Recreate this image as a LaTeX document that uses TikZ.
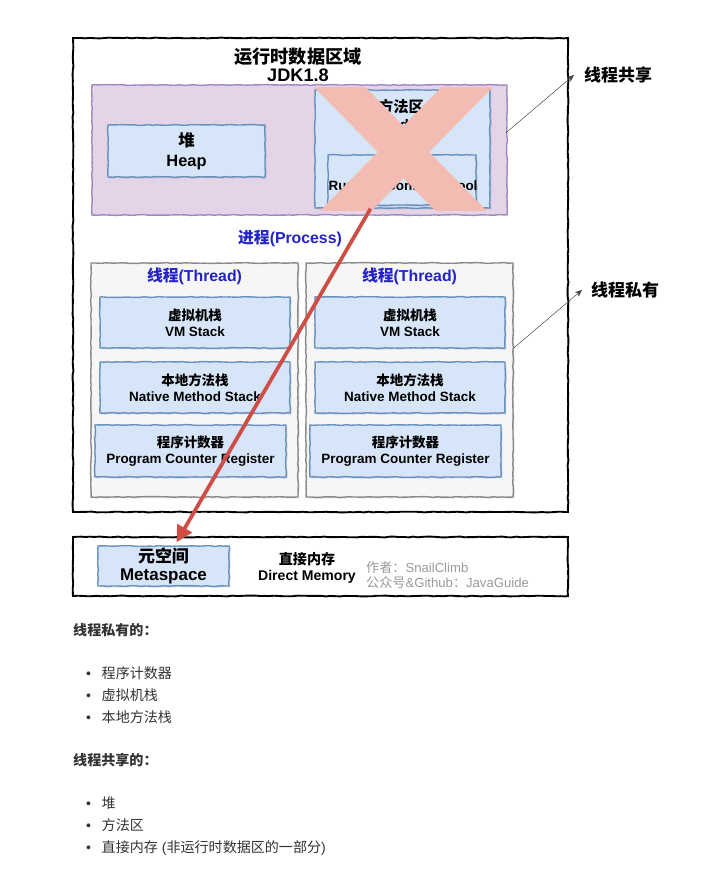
\documentclass[tikz,border=0pt]{standalone}
\usepackage{fontspec}
\setmainfont{Liberation Sans}
\newfontfamily\cjk{Noto Sans CJK SC}
\usepackage{xcolor}
\usetikzlibrary{arrows.meta,calc,decorations.pathmorphing,shadows}

\definecolor{purplefill}{HTML}{E4D4E8}
\definecolor{purpleline}{HTML}{A088BC}
\definecolor{bluefill}{HTML}{D6E6F8}
\definecolor{blueline}{HTML}{6A90BE}
\definecolor{threadfill}{HTML}{F6F6F6}
\definecolor{threadline}{HTML}{8A8A8A}
\definecolor{crosspink}{HTML}{F3BCB2}
\definecolor{arrowred}{HTML}{CC4E45}
\definecolor{titleblue}{HTML}{2222C8}
\definecolor{notegray}{HTML}{999999}
\definecolor{listgray}{HTML}{333333}

\tikzset{
  sketch/.style={decorate, decoration={random steps, segment length=4pt, amplitude=0.35pt}},
  frame/.style={draw=black, line width=1.6pt, sketch, inner sep=0pt},
  region/.style={draw=purpleline, fill=purplefill, line width=1.2pt, sketch, inner sep=0pt},
  area/.style={draw=blueline, fill=bluefill, line width=1.2pt, sketch, inner sep=0pt, align=center,
    font=\bfseries\fontsize{11.5}{13.5}\selectfont,
    drop shadow={opacity=0.25, shadow xshift=1.2pt, shadow yshift=-1.2pt}},
  threadbox/.style={draw=threadline, fill=threadfill, line width=1.2pt, sketch, inner sep=0pt,
    drop shadow={opacity=0.2, shadow xshift=1.2pt, shadow yshift=-1.2pt}},
  heading/.style={text=titleblue, font=\bfseries\fontsize{13.5}{15}\selectfont},
  tag/.style={font=\cjk\bfseries\fontsize{14.5}{16}\selectfont},
  pointer/.style={-{Stealth[length=6pt,width=5pt]}, thin, black!75},
  listhead/.style={anchor=west, inner sep=0pt, text=listgray, font=\cjk\bfseries\fontsize{12}{14}\selectfont},
  listitem/.style={anchor=west, inner sep=0pt, text=listgray, font=\fontsize{12}{14}\selectfont},
}

\begin{document}
\begin{tikzpicture}[x=0.03cm, y=-0.03cm]
\useasboundingbox (0,0) rectangle (720,879);

% runtime data area
\node[frame, minimum width=14.85cm, minimum height=14.22cm] (runtime) at (320.5,275) {};
\node[font=\bfseries\fontsize{15.5}{17}\selectfont, align=center] (title) at (298,65)
  {{\cjk 运行时数据区域}\\[-2pt]JDK1.8};

% shared part
\node[region, minimum width=12.45cm, minimum height=3.9cm] (shared) at (299.5,150) {};
\node[area, minimum width=4.71cm, minimum height=1.56cm,
  font=\bfseries\fontsize{14}{17}\selectfont] (heap) at (186.5,151)
  {{\cjk 堆}\\Heap};
\node[area, minimum width=5.25cm, minimum height=3.54cm] (method) at (402.5,149) {};
\node[font=\bfseries\fontsize{13}{16}\selectfont, align=center] (methodtxt) at (401,115)
  {{\cjk 方法区}\\Method Area};
\node[area, minimum width=4.44cm, minimum height=1.5cm] (pool) at (402,180) {};
\node[font=\bfseries\fontsize{11.5}{13.5}\selectfont] (pooltxt) at (403,186) {Runtime Constant Pool};

% crossed out
\begin{scope}
  \clip (315,88) rectangle (492,211);
  \draw[crosspink, line width=1.1cm] (328,75) -- (474,224);
  \draw[crosspink, line width=1.1cm] (479,75) -- (333,224);
\end{scope}

\node[heading] (process) at (290,238) {{\cjk 进程}(Process)};

% threads
\foreach \name/\cx/\dx in {left/194.5/0, right/409.5/215} {
  \node[threadbox, minimum width=6.21cm, minimum height=7.02cm] (thread\name) at (\cx,380) {};
  \node[heading] at (\cx,276) {{\cjk 线程}(Thread)};
  \node[area, minimum width=5.7cm, minimum height=1.53cm] (vm\name) at (195+\dx,322.5)
    {{\cjk 虚拟机栈}\\VM Stack};
  \node[area, minimum width=5.7cm, minimum height=1.53cm] (native\name) at (195+\dx,387.5)
    {{\cjk 本地方法栈}\\Native Method Stack};
  \node[area, minimum width=5.73cm, minimum height=1.56cm] (pc\name) at (190.5+\dx,451)
    {{\cjk 程序计数器}\\Program Counter Register};
}

% outside the runtime area
\node[frame, minimum width=14.85cm, minimum height=1.77cm] (outside) at (320.5,566.5) {};
\node[area, minimum width=3.93cm, minimum height=1.2cm,
  font=\bfseries\fontsize{14.5}{16}\selectfont] (meta) at (163.5,566)
  {{\cjk 元空间}\\Metaspace};
\node[align=center, font=\bfseries\fontsize{12}{14}\selectfont] (direct) at (307,568)
  {{\cjk 直接内存}\\Direct Memory};
\node[anchor=west, align=left, inner sep=0pt, text=notegray, font=\fontsize{11.2}{13.5}\selectfont] (author) at (366,575)
  {{\cjk 作者：}SnailClimb\\{\cjk 公众号}\&Github{\cjk ：}JavaGuide};

% moved to metaspace
\draw[arrowred, line width=3.2pt, -{Triangle[length=14pt,width=14pt]}]
  ($(method.south)+(-32,0)$) -- ($(meta.north)+(13,-3)$);

% side labels
\node[tag, anchor=west, inner sep=0pt] (sharedtag) at (584,75) {线程共享};
\node[tag, anchor=west, inner sep=0pt] (privatetag) at (591,290) {线程私有};
\draw[pointer] ($(shared.east)+(-2,-17)$) -- ($(sharedtag.west)+(-10,0)$);
\draw[pointer] ($(threadright.east)+(0,-32)$) -- ($(privatetag.west)+(-9,0)$);

% notes below
\node[listhead] (privhead) at (73,630) {线程私有的：};
\node[listitem] (p1) at (86,673) {\textbullet\hspace{9pt}{\cjk 程序计数器}};
\node[listitem] (p2) at (86,695) {\textbullet\hspace{9pt}{\cjk 虚拟机栈}};
\node[listitem] (p3) at (86,717) {\textbullet\hspace{9pt}{\cjk 本地方法栈}};
\node[listhead] (sharehead) at (73,760) {线程共享的：};
\node[listitem] (s1) at (86,803) {\textbullet\hspace{9pt}{\cjk 堆}};
\node[listitem] (s2) at (86,825) {\textbullet\hspace{9pt}{\cjk 方法区}};
\node[listitem] (s3) at (86,848) {\textbullet\hspace{9pt}{\cjk 直接内存} ({\cjk 非运行时数据区的一部分})};
\end{tikzpicture}
\end{document}
